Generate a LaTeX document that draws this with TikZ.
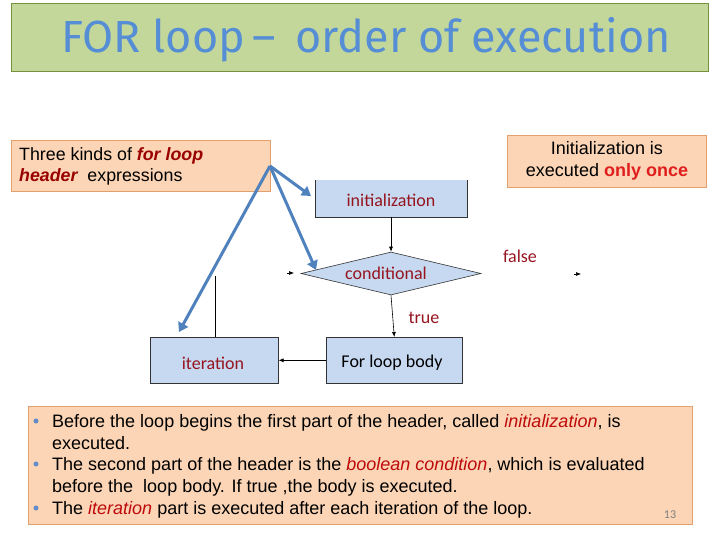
\documentclass[tikz,border=0pt]{standalone}
\usepackage{fontspec}
\setmainfont{Liberation Sans}
\newfontfamily\calfont{Carlito}
\newfontfamily\titlefont{Fira Sans}
\usetikzlibrary{arrows.meta,shapes.geometric}
\definecolor{titlegreen}{RGB}{196,215,155}
\definecolor{titleborder}{RGB}{118,146,60}
\definecolor{titleblue}{RGB}{85,142,213}
\definecolor{peach}{RGB}{251,213,181}
\definecolor{peachborder}{RGB}{228,160,108}
\definecolor{boxblue}{RGB}{198,217,241}
\definecolor{darkred}{RGB}{150,20,30}
\definecolor{hdrred}{RGB}{153,0,0}
\definecolor{brightred}{RGB}{224,30,30}
\definecolor{itred}{RGB}{190,10,10}
\definecolor{arrowblue}{RGB}{79,129,189}
\definecolor{bulletblue}{RGB}{100,140,200}
\begin{document}
\begin{tikzpicture}[x=1pt,y=-1pt,
  callout/.style={draw=peachborder, fill=peach, line width=1pt, anchor=north west, inner sep=0pt},
  flowbox/.style={draw=black!80, fill=boxblue, line width=0.6pt, anchor=north west, inner sep=0pt},
  flowlabel/.style={font=\calfont\fontsize{18}{20}\selectfont, text=darkred, inner sep=0pt},
  flowarrow/.style={draw=black, line width=0.6pt, -{Latex[length=5pt,width=4pt]}},
  bluearrow/.style={draw=arrowblue, line width=3pt, -{Triangle[length=9pt,width=11pt]}},
  bodytext/.style={anchor=base west, inner sep=0pt, font=\fontsize{18}{20}\selectfont},
  bullet/.style={circle, fill=bulletblue, inner sep=0pt, minimum size=5pt}
]
\useasboundingbox (0,0) rectangle (720,540);

% title
\node[draw=titleborder, fill=titlegreen, line width=1pt, anchor=north west, inner sep=0pt,
  minimum width=697pt, minimum height=68pt] (title) at (11,3) {};
\node[text=titleblue, font=\titlefont\fontsize{45}{48}\selectfont, inner sep=0pt] (titletext) at (366,40)
  {FOR loop\,{\textendash}\, order of execution};

% callouts
\node[callout, minimum width=259pt, minimum height=51pt] (left) at (11,140) {};
\node[anchor=west, inner sep=0pt, align=left, font=\fontsize{17.8}{21}\selectfont] (lefttext) at (19,166)
  {Three kinds of \textcolor{hdrred}{\bfseries\itshape for loop}\\
   \textcolor{hdrred}{\bfseries\itshape header}\ \ expressions};
\node[callout, minimum width=199pt, minimum height=52pt] (right) at (507,135) {};
\node[inner sep=0pt, align=center, font=\fontsize{18}{22}\selectfont] (righttext) at (607,161)
  {Initialization is\\ executed \textcolor{brightred}{\bfseries only once}};

% flow boxes
\fill[boxblue] (315,180) rectangle (467,217);
\draw[black!80, line width=0.6pt] (315,180) -- (315,217) -- (467,217) -- (467,180);
\coordinate (initS) at (391,217);
\node[flowlabel] (inittext) at (391,200) {initialization};

\node[diamond, draw=black!80, fill=boxblue, line width=0.6pt, inner sep=0pt,
  minimum width=180pt, minimum height=43pt] (cond) at (391,273.5) {};
\node[flowlabel] (condtext) at (386,273) {conditional};

\node[flowbox, minimum width=128pt, minimum height=46pt] (iter) at (150,337) {};
\node[flowlabel] (itertext) at (213,363) {iteration};
\node[flowbox, minimum width=136pt, minimum height=46pt] (body) at (326,337) {};
\node[flowlabel, text=black] (bodytext) at (392,363) {For loop body};

% connectors
\draw[flowarrow] (initS) -- (cond.north);
\draw[flowarrow] (cond.south) -- (body.north);
\draw[flowarrow] (body.west) -- (iter.east);
\coordinate (loopTop) at (215,276);
\draw[black, line width=0.6pt] (iter.north -| loopTop) -- (loopTop);
\coordinate (loopTipA) at (287,273);
\coordinate (loopTipB) at (294,273);
\draw[flowarrow] (loopTipA) -- (loopTipB);
\coordinate (falseA) at (574,274);
\coordinate (falseB) at (581,274);
\draw[flowarrow] (falseA) -- (falseB);
\node[flowlabel] (falselbl) at (520,256) {false};
\node[flowlabel] (truelbl) at (424,318) {true};

% blue arrows
\coordinate (src) at (270,166);
\coordinate (tInit) at (311,196);
\coordinate (tCond) at (316,270);
\coordinate (tIter) at (179,332);
\draw[bluearrow] (src) -- (tInit);
\draw[bluearrow] (src) -- (tCond);
\draw[bluearrow] (src) -- (tIter);

% bottom text box
\node[callout, minimum width=664pt, minimum height=118pt] (bottom) at (28,406) {};
\node[bullet] (b1) at (36,421) {};
\node[bullet] (b2) at (36,464) {};
\node[bullet] (b3) at (36,508) {};
\node[bodytext] (l1) at (52,427.5) {Before the loop begins the first part of the header, called \textcolor{itred}{\itshape initialization}, is};
\node[bodytext] (l2) at (52,449) {executed.};
\node[bodytext] (l3) at (52,470.5) {The second part of the header is the \textcolor{itred}{\itshape boolean condition}, which is evaluated};
\node[bodytext] (l4) at (52,492) {before the\ \ loop body. If true ,the body is executed.};
\node[bodytext] (l5) at (52,514) {The \textcolor{itred}{\itshape iteration} part is executed after each iteration of the loop.};
\node[text=black!50, font=\calfont\fontsize{12}{13}\selectfont, inner sep=0pt] (pnum) at (670,515) {13};
\end{tikzpicture}
\end{document}
